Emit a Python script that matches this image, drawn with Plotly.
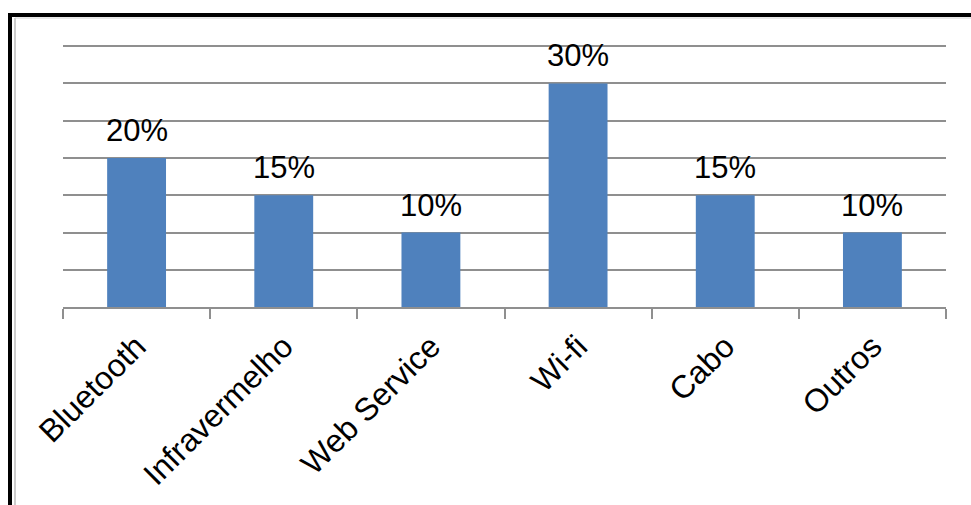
import plotly.graph_objects as go

# Connection types and their share of responses (%)
categories = ["Bluetooth", "Infravermelho", "Web Service", "Wi-fi", "Cabo", "Outros"]
shares = [20, 15, 10, 30, 15, 10]
share_labels = ["20%", "15%", "10%", "30%", "15%", "10%"]

W, H = 971, 505
M_L, M_R, M_T, M_B = 63, 25, 44, 198
plot_w = W - M_L - M_R
plot_h = H - M_T - M_B

def px_x(p):
    return (p - M_L) / plot_w

def px_y(p):
    return (H - M_B - p) / plot_h

GRID = "#8f8f8f"
FONT = "Liberation Sans, Arial, sans-serif"

fig = go.Figure(
    go.Bar(
        x=categories,
        y=shares,
        marker=dict(color="#4f81bd", line=dict(width=0)),
        width=0.4,
        hoverinfo="skip",
    )
)

for cat, val, lab in zip(categories, shares, share_labels):
    fig.add_annotation(
        x=cat, y=val, text=lab, showarrow=False,
        yanchor="bottom", yshift=8,
        font=dict(family=FONT, size=31, color="black"),
    )

# outer frame: heavy black top and left edges with a thin grey inner rule
fig.add_shape(type="line", xref="paper", yref="paper",
              x0=px_x(8), x1=px_x(975), y0=px_y(15), y1=px_y(15),
              line=dict(color="black", width=4))
fig.add_shape(type="line", xref="paper", yref="paper",
              x0=px_x(10), x1=px_x(10), y0=px_y(13), y1=px_y(510),
              line=dict(color="black", width=4))
fig.add_shape(type="line", xref="paper", yref="paper",
              x0=px_x(15), x1=px_x(15), y0=px_y(18), y1=px_y(510),
              line=dict(color="#9a9a9a", width=1))
fig.add_shape(type="line", xref="paper", yref="paper",
              x0=px_x(15), x1=px_x(975), y0=px_y(18), y1=px_y(18),
              line=dict(color="#d0d0d0", width=1))

fig.update_layout(
    width=W, height=H,
    margin=dict(l=M_L, r=M_R, t=M_T, b=M_B, pad=0),
    paper_bgcolor="white", plot_bgcolor="white",
    showlegend=False,
    bargap=0.6,
    font=dict(family=FONT, color="black"),
)
fig.update_xaxes(
    type="category",
    showline=True, linecolor=GRID, linewidth=2,
    ticks="outside", tickson="boundaries", ticklen=10, tickwidth=2, tickcolor=GRID,
    tickangle=-45, ticklabelstandoff=6,
    tickfont=dict(family=FONT, size=32, color="black"),
    showgrid=False,
)
fig.update_yaxes(
    range=[0, 35.3], dtick=5, tick0=0,
    showgrid=True, gridcolor=GRID, gridwidth=2,
    showticklabels=False, zeroline=False, showline=False, ticks="",
)

fig.write_html("out.html")
